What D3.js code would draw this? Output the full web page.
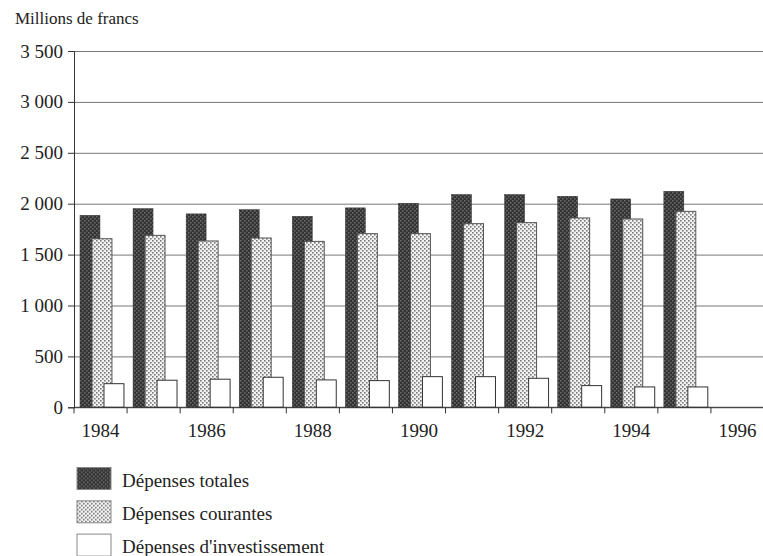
<!DOCTYPE html>
<html>
<head>
<meta charset="utf-8">
<script src="https://cdn.jsdelivr.net/npm/d3@7"></script>
<style>
  body { margin: 0; background: #fff; }
  svg text { font-family: "Liberation Serif", "Times New Roman", serif; fill: #222; }
</style>
</head>
<body>
<div id="chart"></div>
<script>
// data (millions de francs)
var years = [1984, 1985, 1986, 1987, 1988, 1989, 1990, 1991, 1992, 1993, 1994, 1995, 1996];
var totales = [1886, 1952, 1900, 1942, 1876, 1959, 2004, 2090, 2090, 2073, 2047, 2122];
var courantes = [1656, 1689, 1634, 1663, 1630, 1706, 1706, 1804, 1814, 1860, 1850, 1925];
var investissement = [232, 266, 276, 295, 269, 262, 301, 301, 285, 213, 200, 200];
var yTicks = [0, 500, 1000, 1500, 2000, 2500, 3000, 3500];
var xLabels = [1984, 1986, 1988, 1990, 1992, 1994, 1996];
var seriesNames = ["Dépenses totales", "Dépenses courantes", "Dépenses d'investissement"];

var width = 763, height = 556;
var margin = {top: 51, left: 74, bottom: 148};
var serif = "Liberation Serif, Times New Roman, serif";

var svg = d3.select("#chart").append("svg")
    .attr("width", width)
    .attr("height", height)
    .attr("font-family", serif);

// dot patterns for the bars
var defs = svg.append("defs");
var pDark = defs.append("pattern").attr("id", "pDark")
    .attr("width", 4).attr("height", 4).attr("patternUnits", "userSpaceOnUse");
pDark.append("rect").attr("width", 4).attr("height", 4).attr("fill", "#333");
pDark.append("rect").attr("x", 0).attr("y", 0).attr("width", 1.5).attr("height", 1.5).attr("fill", "#6e6e6e");
pDark.append("rect").attr("x", 2).attr("y", 2).attr("width", 1.5).attr("height", 1.5).attr("fill", "#6e6e6e");

var pDot = defs.append("pattern").attr("id", "pDot")
    .attr("width", 4).attr("height", 4).attr("patternUnits", "userSpaceOnUse");
pDot.append("rect").attr("width", 4).attr("height", 4).attr("fill", "#f2f2f2");
pDot.append("rect").attr("x", 0).attr("y", 0).attr("width", 1.6).attr("height", 1.6).attr("fill", "#7a7a7a");
pDot.append("rect").attr("x", 2).attr("y", 2).attr("width", 1.6).attr("height", 1.6).attr("fill", "#7a7a7a");

var fills = ["url(#pDark)", "url(#pDot)", "#fff"];
var strokes = ["#333", "#555", "#333"];

// scales
var x = d3.scaleBand().domain(years).range([margin.left, 764]);
var y = d3.scaleLinear().domain([0, 3500]).range([407.3, margin.top]);

var fr = d3.formatLocale({decimal: ",", thousands: " ", grouping: [3], currency: ["", " F"]});
var fmt = fr.format(",d");

// gridlines
svg.append("g")
    .attr("transform", "translate(" + margin.left + ",0)")
    .call(d3.axisRight(y).tickValues(yTicks).tickSize(width - margin.left).tickFormat(""))
    .call(function(g) { g.select(".domain").remove(); })
    .selectAll("line").attr("stroke", "#777").attr("stroke-width", 1);

// bars
var bw = x.bandwidth();
var series = [totales, courantes, investissement];
series.forEach(function(vals, i) {
  svg.append("g").selectAll("rect")
    .data(vals)
    .enter().append("rect")
      .attr("x", function(d, j) { return x(years[j]) + bw * (0.113 + 0.226 * i); })
      .attr("width", bw * 0.376)
      .attr("y", function(d) { return y(d); })
      .attr("height", function(d) { return y(0) - y(d); })
      .attr("fill", fills[i])
      .attr("stroke", strokes[i])
      .attr("stroke-width", i === 0 ? 0.5 : 1);
});

// y axis
var yAxis = svg.append("g")
    .attr("transform", "translate(" + margin.left + ",0)")
    .call(d3.axisLeft(y).tickValues(yTicks).tickSize(6).tickPadding(5).tickFormat(fmt))
    .attr("font-family", serif);
yAxis.selectAll("line, path").attr("stroke", "#333");
yAxis.selectAll("text").attr("font-size", 19).attr("fill", "#222");

// x axis: ticks at the start of each year band, labels every other year
var xAxis = svg.append("g").attr("transform", "translate(0," + y(0) + ")");
xAxis.append("line")
    .attr("x1", margin.left).attr("x2", width)
    .attr("stroke", "#333");
xAxis.selectAll(".tk").data(years).enter().append("line")
    .attr("class", "tk")
    .attr("x1", function(d) { return x(d); }).attr("x2", function(d) { return x(d); })
    .attr("y1", 0).attr("y2", 6)
    .attr("stroke", "#333");
xAxis.selectAll(".lb").data(xLabels).enter().append("text")
    .attr("class", "lb")
    .attr("x", function(d) { return x(d) + bw / 2; })
    .attr("y", 30)
    .attr("text-anchor", "middle")
    .attr("font-size", 19)
    .text(function(d) { return d; });

// unit label
svg.append("text")
    .attr("x", 15).attr("y", 24)
    .attr("font-family", serif)
    .attr("font-size", 17)
    .text("Millions de francs");

// legend
var legend = svg.append("g").selectAll("g")
    .data(seriesNames)
    .enter().append("g")
    .attr("transform", function(d, i) { return "translate(77," + (467.5 + i * 33.3) + ")"; });
legend.append("rect")
    .attr("width", 34).attr("height", 22)
    .attr("fill", function(d, i) { return fills[i]; })
    .attr("stroke", "#888");
legend.append("text")
    .attr("x", 45).attr("y", 19)
    .attr("font-size", 19)
    .text(function(d) { return d; });
</script>
</body>
</html>
